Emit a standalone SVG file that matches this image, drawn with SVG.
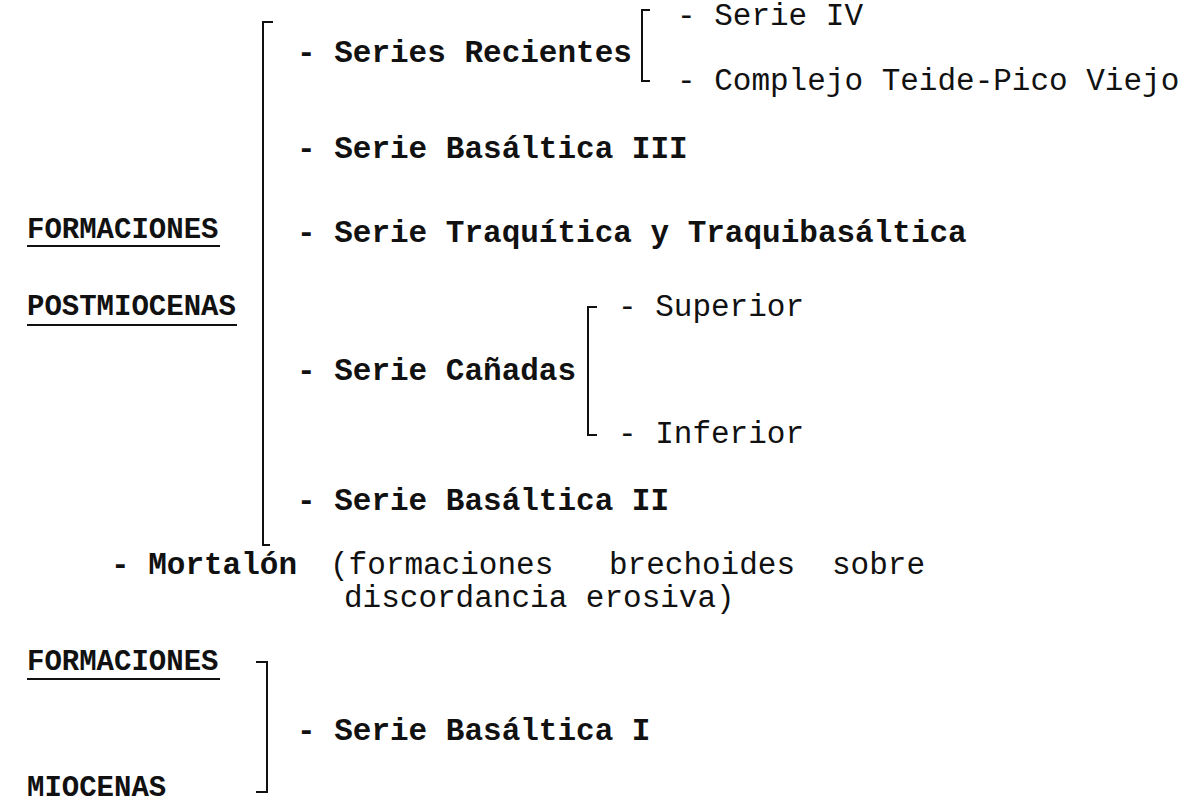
<svg xmlns="http://www.w3.org/2000/svg" width="1192" height="805" viewBox="0 0 1192 805">
<style>
.b{font-family:"Liberation Mono","Courier New",monospace;font-size:31px;font-weight:bold;fill:#111}
.r{font-family:"Liberation Mono","Courier New",monospace;font-size:31px;fill:#111}
.h{font-family:"Liberation Mono","Courier New",monospace;font-size:29px;font-weight:bold;fill:#111}
.u{stroke:#111;stroke-width:2;fill:none}
.k{stroke:#111;stroke-width:2;fill:none}
</style>
<rect width="1192" height="805" fill="#fff"/>
<g id="labels">
<text class="h" x="27" y="238">FORMACIONES</text><line class="u" x1="27" y1="246" x2="220" y2="246"/>
<text class="h" x="27" y="315">POSTMIOCENAS</text><line class="u" x1="27" y1="325" x2="237" y2="325"/>
<text class="h" x="27" y="670">FORMACIONES</text><line class="u" x1="27" y1="679" x2="220" y2="679"/>
<text class="h" x="27" y="796">MIOCENAS</text>
</g>
<g id="connectors">
<path class="k" d="M273,22 H263 V545 H270"/>
<path class="k" d="M650,10 H642 V81 H650"/>
<path class="k" d="M597,307 H588 V435 H597"/>
<path class="k" d="M256,662 H267 V792 H256"/>
</g>
<g id="series-recientes"><text class="b" x="297" y="62">- Series Recientes</text></g>
<g id="serie-iv"><text class="r" x="677" y="25">- Serie IV</text></g>
<g id="complejo"><text class="r" x="677" y="90">- Complejo Teide-Pico Viejo</text></g>
<g id="basaltica-iii"><text class="b" x="297" y="158">- Serie Basáltica III</text></g>
<g id="traquitica"><text class="b" x="297" y="242">- Serie Traquítica y Traquibasáltica</text></g>
<g id="superior"><text class="r" x="618" y="316">- Superior</text></g>
<g id="canadas"><text class="b" x="297" y="380">- Serie Cañadas</text></g>
<g id="inferior"><text class="r" x="618" y="443">- Inferior</text></g>
<g id="basaltica-ii"><text class="b" x="297" y="510">- Serie Basáltica II</text></g>
<g id="mortalon">
<text class="b" x="111" y="574">- Mortalón</text>
<text class="r" y="574"><tspan x="330">(formaciones</tspan><tspan x="609">brechoides</tspan><tspan x="832">sobre</tspan></text>
<text class="r" x="344" y="607">discordancia erosiva)</text>
</g>
<g id="basaltica-i"><text class="b" x="297" y="740">- Serie Basáltica I</text></g>
</svg>
